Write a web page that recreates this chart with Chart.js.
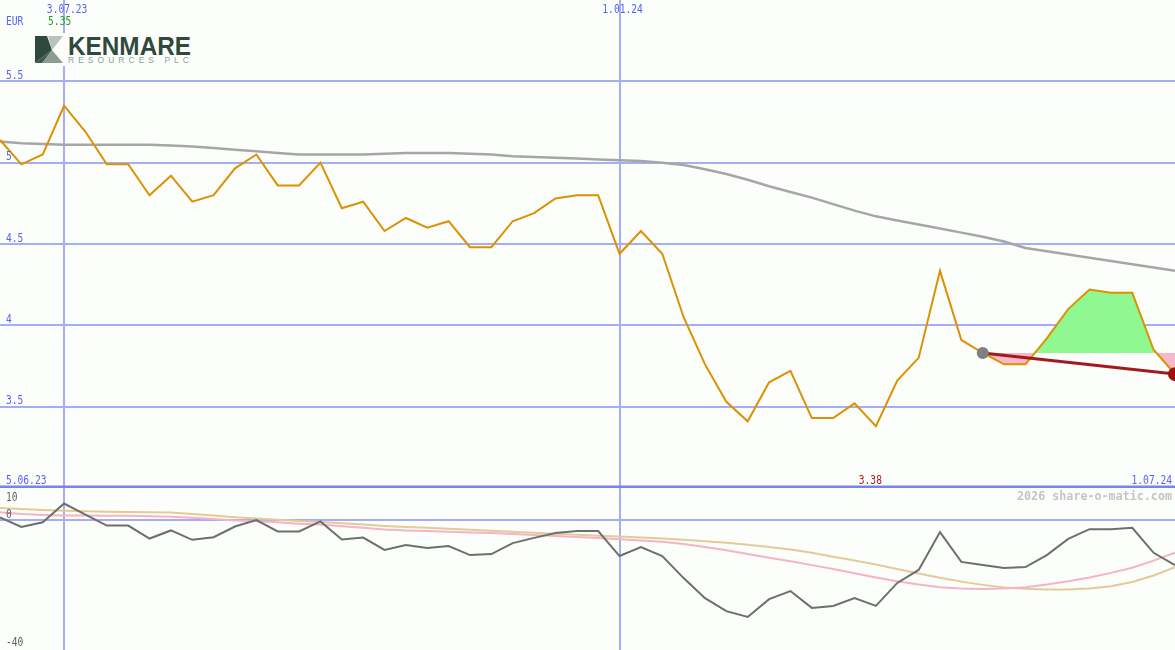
<!doctype html>
<html lang="en">
<head>
<meta charset="UTF-8">
<title>Kenmare Resources PLC</title>
<script src="https://cdn.jsdelivr.net/npm/chart.js@4.4.1/dist/chart.umd.min.js"></script>
<style>
  body { margin: 0; background: #fcfefc; }
  #wrap { position: relative; width: 1175px; height: 650px; overflow: hidden; background: #fcfefc; }
  #top { position: absolute; left: 0; top: 0; }
  #bottom { position: absolute; left: 0; top: 488px; }
  #logo { position: absolute; left: 33px; top: 33px; }
</style>
</head>
<body>
<div id="wrap">
  <canvas id="top" width="1175" height="488"></canvas>
  <canvas id="bottom" width="1175" height="162"></canvas>
  <svg id="logo" width="162" height="33" viewBox="0 0 162 33">
    <rect x="0" y="0" width="162" height="33" fill="#fcfefc"/>
    <polygon points="2,3 14,3 19,17 2,30" fill="#2f4a3b"/>
    <polygon points="15,3 30,3 19,17" fill="#b7c3bb"/>
    <polygon points="19,17 30,30 9,30" fill="#8b9d93"/>
    <polygon points="2,30 9,30 19,17" fill="#3e5a4a"/>
    <text x="35" y="22" font-family="Liberation Sans, Arial, sans-serif" font-weight="bold" font-size="26" fill="#2f4a3b" textLength="123" lengthAdjust="spacingAndGlyphs">KENMARE</text>
    <text x="35" y="30" font-family="Liberation Sans, Arial, sans-serif" font-size="8.5" fill="#8e9e96" textLength="121" lengthAdjust="spacing">RESOURCES PLC</text>
  </svg>
</div>
<script>
// weekly closes, 12.06.23 .. 1.07.24
const dates = ['12.06.23','19.06.23','26.06.23','3.07.23','10.07.23','17.07.23','24.07.23','31.07.23',
  '7.08.23','14.08.23','21.08.23','28.08.23','4.09.23','11.09.23','18.09.23','25.09.23',
  '2.10.23','9.10.23','16.10.23','23.10.23','30.10.23','6.11.23','13.11.23','20.11.23','27.11.23',
  '4.12.23','11.12.23','18.12.23','25.12.23','1.01.24','8.01.24','15.01.24','22.01.24','29.01.24',
  '5.02.24','12.02.24','19.02.24','26.02.24','4.03.24','11.03.24','18.03.24','25.03.24',
  '1.04.24','8.04.24','15.04.24','22.04.24','29.04.24','6.05.24','13.05.24','20.05.24','27.05.24',
  '3.06.24','10.06.24','17.06.24','24.06.24','1.07.24'];

const price = [5.14, 4.99, 5.05, 5.35, 5.19, 4.99, 4.99, 4.80, 4.92, 4.76, 4.80, 4.965, 5.05, 4.86,
  4.86, 5.00, 4.72, 4.76, 4.58, 4.66, 4.60, 4.64, 4.48, 4.48, 4.64, 4.69, 4.78, 4.80, 4.80, 4.44,
  4.58, 4.44, 4.05, 3.76, 3.53, 3.41, 3.65, 3.72, 3.43, 3.43, 3.52, 3.38, 3.66, 3.80, 4.335, 3.91,
  3.83, 3.76, 3.76, 3.92, 4.10, 4.22, 4.20, 4.20, 3.85, 3.70];

const avg = [5.13, 5.12, 5.115, 5.11, 5.11, 5.11, 5.11, 5.11, 5.105, 5.10, 5.09, 5.08, 5.07, 5.06,
  5.05, 5.05, 5.05, 5.05, 5.055, 5.06, 5.06, 5.06, 5.055, 5.05, 5.04, 5.035, 5.03, 5.025, 5.02, 5.015,
  5.01, 5.00, 4.985, 4.96, 4.93, 4.895, 4.855, 4.82, 4.785, 4.745, 4.705, 4.67, 4.645, 4.62, 4.595, 4.57,
  4.545, 4.515, 4.475, 4.455, 4.435, 4.415, 4.395, 4.375, 4.355, 4.335];

const osc = [0.96, -2.0, -0.6, 5.2, 1.8, -1.6, -1.6, -5.6, -3.1, -6.0, -5.2, -1.9, 0.1, -3.4,
  -3.4, -0.3, -5.9, -5.3, -9.1, -7.6, -8.5, -7.9, -10.7, -10.4, -7.0, -5.4, -3.9, -3.3, -3.3, -11.0,
  -8.2, -11.0, -17.8, -24.0, -28.0, -29.8, -24.3, -21.8, -27.0, -26.4, -24.0, -26.4, -19.3, -15.3, -3.6, -12.8,
  -13.8, -14.7, -14.4, -10.7, -5.7, -2.7, -2.7, -2.3, -10.0, -13.8];

const oscFast = [2.5, 2.0, 1.7, 1.5, 1.5, 1.4, 1.4, 1.3, 1.1, 0.8, 0.4, 0.0, -0.3, -0.6,
  -1.0, -1.3, -1.8, -2.3, -2.8, -3.1, -3.3, -3.5, -3.7, -3.9, -4.2, -4.5, -4.8, -5.1, -5.4, -5.8,
  -6.2, -6.6, -7.3, -8.2, -9.2, -10.4, -11.5, -12.6, -13.8, -15.0, -16.3, -17.6, -18.8, -19.8, -20.6, -21.0,
  -21.2, -21.0, -20.6, -19.8, -18.8, -17.6, -16.2, -14.6, -12.4, -10.0];

const oscSlow = [3.8, 3.5, 3.2, 3.0, 2.8, 2.7, 2.6, 2.5, 2.4, 2.0, 1.5, 1.0, 0.6, 0.2,
  -0.2, -0.5, -0.9, -1.3, -1.7, -2.0, -2.3, -2.6, -2.9, -3.2, -3.5, -3.8, -4.1, -4.4, -4.7, -5.0,
  -5.3, -5.6, -6.0, -6.4, -6.9, -7.5, -8.2, -9.0, -10.0, -11.2, -12.4, -13.6, -15.0, -16.4, -17.7, -18.9,
  -19.9, -20.7, -21.1, -21.3, -21.3, -21.0, -20.3, -19.0, -17.0, -14.4];

const gridDates = ['3.07.23', '1.01.24'];
const rangeLabels = ['5.06.23', '1.07.24'];
const priceTicks = [3.5, 4, 4.5, 5, 5.5];
const oscTicks = [10, 0, -40];
const trendIdx = [46, 55];
const trendVals = [3.83, 3.70];
const refLevel = 3.83;

const BLUE = '#5862ee';
const GRID = '#a5aef4';
const MONO = '"DejaVu Sans Mono", monospace';

const trend = dates.map((d, i) => i === trendIdx[0] ? trendVals[0] : (i === trendIdx[1] ? trendVals[1] : null));
const band = price.map((v, i) => i >= trendIdx[0] ? v : null);

const maxIdx = price.indexOf(Math.max(...price));
const minIdx = price.indexOf(Math.min(...price));

function xGrid(ctx) {
  return gridDates.includes(dates[ctx.index]) ? GRID : 'rgba(0,0,0,0)';
}

// pixel-ish font: taller than it is wide
function monoText(ctx, s, x, y, align, sx) {
  ctx.save();
  ctx.translate(x, y);
  ctx.scale(sx || 0.8, 1);
  ctx.textAlign = align || 'left';
  ctx.fillText(s, 0, 0);
  ctx.restore();
}

const topLabels = {
  id: 'topLabels',
  afterDraw(chart) {
    const { ctx, scales: { x, y } } = chart;
    ctx.save();
    ctx.font = '12px ' + MONO;
    ctx.textBaseline = 'alphabetic';
    ctx.fillStyle = BLUE;
    gridDates.forEach(d => monoText(ctx, d, x.getPixelForValue(dates.indexOf(d)) + 3, 13, 'center'));
    monoText(ctx, 'EUR', 6, 25);
    priceTicks.forEach(v => monoText(ctx, String(v), 6, y.getPixelForValue(v) - 2.5));
    monoText(ctx, rangeLabels[0], 6, 484);
    monoText(ctx, rangeLabels[1], 1172, 484, 'right');
    ctx.fillStyle = '#a01c1c';
    monoText(ctx, price[minIdx].toFixed(2), x.getPixelForValue(minIdx) + 6, 484, 'right');
    ctx.fillStyle = '#22a022';
    monoText(ctx, price[maxIdx].toFixed(2), x.getPixelForValue(maxIdx) - 16, 25);
    ctx.fillStyle = '#7884ec';
    ctx.fillRect(0, 485.5, 1175, 2.5);
    ctx.restore();
  }
};

const bottomLabels = {
  id: 'bottomLabels',
  afterDraw(chart) {
    const { ctx, scales: { y } } = chart;
    ctx.save();
    ctx.textBaseline = 'alphabetic';
    ctx.font = 'bold 13px ' + MONO;
    ctx.fillStyle = '#c4c4c4';
    monoText(ctx, '2026 share-o-matic.com', 1172, 12, 'right', 0.9);
    ctx.font = '12px ' + MONO;
    ctx.fillStyle = '#606060';
    monoText(ctx, String(oscTicks[0]), 6, 13);
    monoText(ctx, String(oscTicks[1]), 6, y.getPixelForValue(oscTicks[1]) - 2.5);
    monoText(ctx, String(oscTicks[2]), 6, 158);
    ctx.restore();
  }
};

const baseScales = (ymin, ymax, step, yGrid) => ({
  x: {
    type: 'category', offset: false,
    ticks: { display: false, autoSkip: false },
    grid: { color: xGrid, lineWidth: 2, drawTicks: false },
    border: { display: false }
  },
  y: {
    min: ymin, max: ymax,
    ticks: { display: false, stepSize: step },
    grid: { color: yGrid, lineWidth: 2, drawTicks: false },
    border: { display: false }
  }
});

const common = {
  responsive: false,
  animation: false,
  devicePixelRatio: 1,
  layout: { padding: 0, autoPadding: false },
  plugins: { legend: { display: false }, tooltip: { enabled: false } },
  elements: { point: { radius: 0 }, line: { tension: 0 } }
};

new Chart(document.getElementById('top'), {
  type: 'line',
  data: {
    labels: dates,
    datasets: [
      { data: trend, spanGaps: true, borderColor: '#a01c1c', borderWidth: 3, order: 0,
        pointRadius: c => c.dataIndex === trendIdx[0] ? 6 : (c.dataIndex === trendIdx[1] ? 7 : 0),
        pointBackgroundColor: c => c.dataIndex === trendIdx[0] ? '#808080' : '#a01010',
        pointBorderWidth: 0 },
      { data: price, borderColor: '#dc9100', borderWidth: 2, order: 1 },
      { data: avg, borderColor: '#a6a6a6', borderWidth: 2.5, order: 2 },
      { data: band, borderWidth: 0, borderColor: 'rgba(0,0,0,0)', order: 3,
        fill: { target: { value: refLevel }, above: '#90f890', below: '#f8b8cc' } }
    ]
  },
  options: Object.assign({}, common, {
    scales: baseScales(3, 6, 0.5, c => priceTicks.includes(c.tick.value) ? GRID : 'rgba(0,0,0,0)')
  }),
  plugins: [topLabels]
});

new Chart(document.getElementById('bottom'), {
  type: 'line',
  data: {
    labels: dates,
    datasets: [
      { data: osc, borderColor: '#6e6e6e', borderWidth: 2, order: 0 },
      { data: oscFast, borderColor: '#f8b2c8', borderWidth: 2, order: 1 },
      { data: oscSlow, borderColor: '#e2cb98', borderWidth: 2, order: 2 }
    ]
  },
  options: Object.assign({}, common, {
    scales: baseScales(-40, 10, 10, c => c.tick.value === 0 ? GRID : 'rgba(0,0,0,0)')
  }),
  plugins: [bottomLabels]
});
</script>
</body>
</html>
